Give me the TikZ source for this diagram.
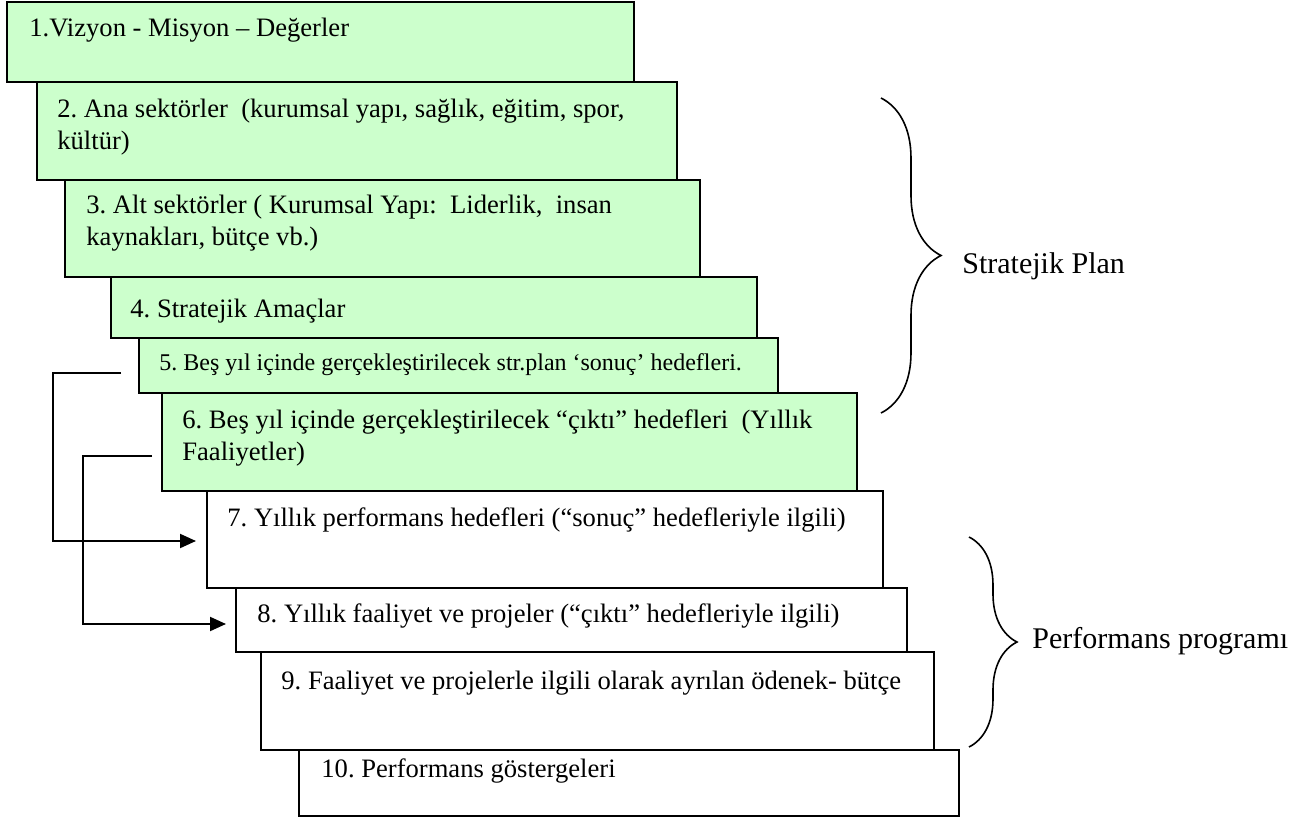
\documentclass[tikz,border=0pt]{standalone}
\usepackage{fontspec}
\setmainfont{Liberation Serif}
\usetikzlibrary{arrows.meta,decorations.pathreplacing}
\definecolor{stepgreen}{RGB}{204,255,204}
\frenchspacing

\begin{document}
\begin{tikzpicture}
  [
    x                  = 0.5pt,
    y                  = 0.5pt,
    stepbox/.style     = {draw, line width=1pt, rectangle, inner sep=0pt, outer sep=0pt, anchor=north west},
    planbox/.style     = {stepbox, fill=stepgreen},
    progbox/.style     = {stepbox, fill=white},
    steptext/.style    = {anchor=base west, inner sep=0pt, align=left, font=\fontsize{13.3pt}{16pt}\selectfont},
    sidetext/.style    = {anchor=base west, inner sep=0pt, font=\fontsize{15pt}{18pt}\selectfont},
    link/.style        = {line width=1pt, -{Triangle[length=8pt,width=7pt]}},
    bracket/.style     = {decorate, line width=0.8pt}
  ]
  \useasboundingbox (0,0) rectangle (1298,-819);

  % strategic plan steps
  \node[planbox, minimum width=313.5pt, minimum height=40pt]   (b1)  at (7,-2)     {};
  \node[planbox, minimum width=320pt,   minimum height=49pt]   (b2)  at (37,-82)   {};
  \node[planbox, minimum width=317.5pt, minimum height=48.5pt] (b3)  at (65,-180)  {};
  \node[planbox, minimum width=323pt,   minimum height=30.5pt] (b4)  at (111,-277) {};
  \node[planbox, minimum width=319.5pt, minimum height=27.5pt] (b5)  at (139,-338) {};
  \node[planbox, minimum width=347.5pt, minimum height=49pt]   (b6)  at (162,-393) {};
  % performance program steps
  \node[progbox, minimum width=338pt,   minimum height=48.5pt] (b7)  at (207,-491) {};
  \node[progbox, minimum width=335.5pt, minimum height=32pt]   (b8)  at (236,-588) {};
  \node[progbox, minimum width=336.5pt, minimum height=49pt]   (b9)  at (261,-652) {};
  \node[progbox, minimum width=330pt,   minimum height=33pt]   (b10) at (299,-750) {};

  % two-line texts sit on the baseline of their second line
  \node[steptext] (t1)  at ([shift={(22,-35)}]b1.north west)  {1.Vizyon - Misyon – Değerler};
  \node[steptext] (t2)  at ([shift={(20,-67)}]b2.north west)  {2. Ana sektörler\ \ (kurumsal yapı, sağlık, eğitim, spor,\\kültür)};
  \node[steptext] (t3)  at ([shift={(21,-65)}]b3.north west)  {3. Alt sektörler ( Kurumsal Yapı:\ \ Liderlik,\ \ insan\\kaynakları, bütçe vb.)};
  \node[steptext] (t4)  at ([shift={(19,-40)}]b4.north west)  {4. Stratejik Amaçlar};
  \node[steptext, font=\fontsize{12pt}{14.4pt}\selectfont]
                  (t5)  at ([shift={(20,-32)}]b5.north west)  {5. Beş yıl içinde gerçekleştirilecek str.plan ‘sonuç’ hedefleri.};
  \node[steptext] (t6)  at ([shift={(20,-67)}]b6.north west)  {6. Beş yıl içinde gerçekleştirilecek “çıktı” hedefleri\ \ (Yıllık\\Faaliyetler)};
  \node[steptext] (t7)  at ([shift={(20,-35)}]b7.north west)  {7. Yıllık performans hedefleri (“sonuç” hedefleriyle ilgili)};
  \node[steptext] (t8)  at ([shift={(21,-34)}]b8.north west)  {8. Yıllık faaliyet ve projeler (“çıktı” hedefleriyle ilgili)};
  \node[steptext] (t9)  at ([shift={(20,-37)}]b9.north west)  {9. Faaliyet ve projelerle ilgili olarak ayrılan ödenek- bütçe};
  \node[steptext] (t10) at ([shift={(22,-27)}]b10.north west) {10. Performans göstergeleri};

  % links from the five-year targets to the yearly ones
  \draw[link] ([shift={(-18,-7.5)}]b5.west) -- ++(-68,0) |- ([shift={(-11,-1.5)}]b7.west);
  \draw[link] ([shift={(-10,-14)}]b6.west) -- ++(-69,0) |- ([shift={(-10,-4)}]b8.west);

  % braces
  \draw[bracket, decoration={brace, amplitude=30pt}] (881,-98) -- (881,-413);
  \draw[bracket, decoration={brace, amplitude=24pt}] (969,-537) -- (969,-747);
  \node[sidetext] (plan) at (962,-273)  {Stratejik Plan};
  \node[sidetext] (prog) at (1032,-648) {Performans programı};
\end{tikzpicture}
\end{document}
